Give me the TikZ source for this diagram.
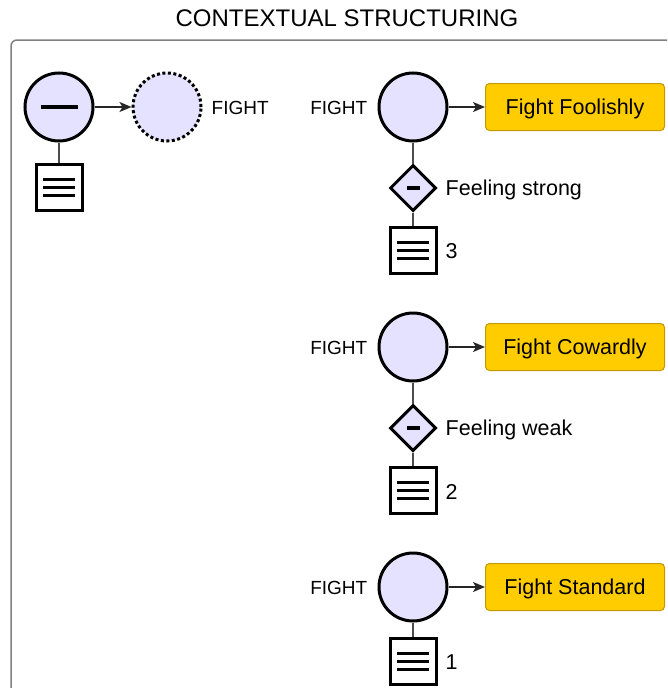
\documentclass[tikz,border=0pt]{standalone}
\usepackage{fontspec}
\setmainfont{Liberation Sans}
\usetikzlibrary{shapes.geometric,arrows.meta,positioning}

\definecolor{lavender}{RGB}{229,226,255}
\definecolor{gold}{RGB}{255,204,0}
\definecolor{goldedge}{RGB}{196,152,0}
\definecolor{framegray}{RGB}{128,128,128}

\tikzset{
	state/.style={circle, draw=black, line width=3pt, fill=lavender, minimum size=68pt, inner sep=0pt},
	cond/.style={diamond, draw=black, line width=3pt, fill=lavender, minimum size=46pt, inner sep=0pt},
	minus/.style={path picture={\draw[line width=3.2pt] ([xshift=-#1pt]path picture bounding box.center) -- ([xshift=#1pt]path picture bounding box.center);}},
	doc/.style={rectangle, draw=black, line width=3pt, fill=white, minimum size=46pt, inner sep=0pt,
		path picture={\foreach \dy in {-8,0,8}
			\draw[line width=3pt] ([xshift=-16pt, yshift=\dy pt]path picture bounding box.center) -- ++(32pt,0pt);}},
	outcome/.style={rectangle, draw=goldedge, line width=1pt, fill=gold, rounded corners=4pt, text depth=0pt,
		minimum width=179pt, minimum height=47pt, font=\fontsize{21.5}{25}\selectfont},
	tag/.style={inner sep=0pt, yshift=-1.5pt, font=\fontsize{21.5}{25}\selectfont},
	fightlabel/.style={inner sep=0pt, yshift=-1pt, font=\fontsize{19}{23}\selectfont},
	link/.style={-{Stealth[length=12pt, width=10pt, inset=3pt]}, line width=1.5pt, draw=black!85},
	stem/.style={line width=1.6pt, draw=black!70},
	frame/.style={draw=framegray, line width=1.5pt, rounded corners=6pt}
}

\begin{document}
\begin{tikzpicture}[x=1pt, y=-1pt]
	\clip (0,0) rectangle (667,688);
	\node[font=\fontsize{24}{28}\selectfont] (title) at (347,18) {CONTEXTUAL STRUCTURING};
	\draw[frame] (11,760) -- (11,40) -- (740,40);

	% negated fight
	\node[state, minus=18.5] (neg) at (59,107) {};
	\node[state, dash pattern=on 3pt off 2.5pt] (ghost) at (167,107) {};
	\node[fightlabel, right=9pt of ghost] (ghostlabel) {FIGHT};
	\node[doc] (negdoc) at (59,187) {};
	\draw[link] (neg) -- (ghost);
	\draw[stem] (neg) -- (negdoc);

	% feeling strong
	\node[state] (strong) at (413,107) {};
	\node[fightlabel, left=10pt of strong] (stronglabel) {FIGHT};
	\node[outcome] (foolish) at (575,107) {Fight Foolishly};
	\node[cond, minus=6.5] (strongcond) at (413,188) {};
	\node[tag, right=8pt of strongcond] (strongtext) {Feeling strong};
	\node[doc] (strongdoc) at (413,250) {};
	\node[tag, right=8pt of strongdoc] (strongnum) {3};
	\draw[link] (strong) -- (foolish);
	\draw[stem] (strong) -- (strongcond);
	\draw[stem] (strongcond) -- (strongdoc);

	% feeling weak
	\node[state] (weak) at (413,347) {};
	\node[fightlabel, left=10pt of weak] (weaklabel) {FIGHT};
	\node[outcome] (coward) at (575,347) {Fight Cowardly};
	\node[cond, minus=6.5] (weakcond) at (413,428) {};
	\node[tag, right=8pt of weakcond] (weaktext) {Feeling weak};
	\node[doc] (weakdoc) at (413,490) {};
	\node[tag, right=8pt of weakdoc] (weaknum) {2};
	\draw[link] (weak) -- (coward);
	\draw[stem] (weak) -- (weakcond);
	\draw[stem] (weakcond) -- (weakdoc);

	% default
	\node[state] (plain) at (413,587) {};
	\node[fightlabel, left=10pt of plain] (plainlabel) {FIGHT};
	\node[outcome] (standard) at (575,587) {Fight Standard};
	\node[doc] (plaindoc) at (413,661) {};
	\node[tag, right=8pt of plaindoc] (plainnum) {1};
	\draw[link] (plain) -- (standard);
	\draw[stem] (plain) -- (plaindoc);
\end{tikzpicture}
\end{document}
